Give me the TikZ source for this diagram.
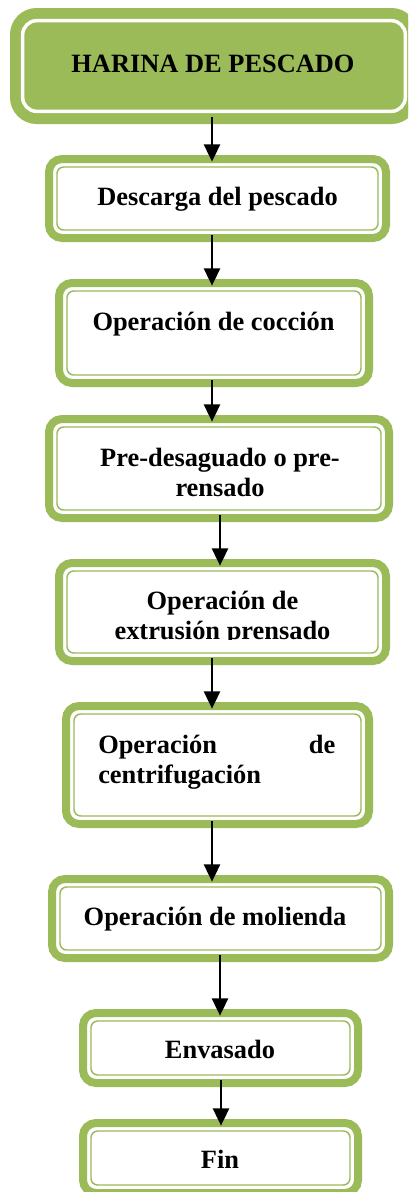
\documentclass[tikz,border=0pt]{standalone}
\usepackage{fontspec}
\setmainfont{Liberation Serif}
\usetikzlibrary{arrows.meta}
\definecolor{grn}{HTML}{9BBB59}
\begin{document}
\begin{tikzpicture}[x=0.75pt,y=-0.75pt,
  stepbox/.style 2 args={draw=grn, line width=6pt, fill=white, rounded corners=9.75pt,
    inner sep=0pt, outer sep=3pt, minimum width=#1, minimum height=#2,
    path picture={\draw[grn, line width=1.1pt, rounded corners=5pt]
      ([shift={(6pt,-6pt)}]path picture bounding box.north west) rectangle
      ([shift={(-6pt,6pt)}]path picture bounding box.south east);}},
  titlebox/.style 2 args={draw=grn, line width=6pt, fill=grn, rounded corners=17pt,
    inner sep=0pt, outer sep=3pt, minimum width=#1, minimum height=#2,
    path picture={\draw[white, line width=2.6pt, rounded corners=10.5pt]
      ([shift={(6.5pt,-6.5pt)}]path picture bounding box.north west) rectangle
      ([shift={(-6.5pt,6.5pt)}]path picture bounding box.south east);}},
  txt/.style={font=\fontsize{19.8pt}{22pt}\selectfont\bfseries, inner sep=0pt,
    anchor=base, align=center},
  arr/.style={line width=2pt, -{Triangle[width=12pt,length=13pt]},
    shorten <=-5pt, shorten >=-5pt}]
\useasboundingbox (0,0) rectangle (408,1192);
\clip (0,0) rectangle (408,1192);

% boxes
\node[titlebox={300pt}{81pt}] (b1) at (214,66) {};
\node[stepbox={252.75pt}{59.25pt}] (b2) at (217.5,198.5) {};
\node[stepbox={232.5pt}{75pt}] (b3) at (214,333) {};
\node[stepbox={255pt}{74.25pt}] (b4) at (219,468.5) {};
\node[stepbox={245.25pt}{73.5pt}] (b5) at (222.5,612) {};
\node[stepbox={227.25pt}{88.5pt}] (b6) at (217.5,765) {};
\node[stepbox={252.75pt}{59.25pt}] (b7) at (220.5,918.5) {};
\node[stepbox={206.25pt}{52.5pt}] (b8) at (220.5,1048) {};
\node[stepbox={206.25pt}{52.5pt}] (b9) at (220.5,1158) {};

% texts (multi-line nodes: base = baseline of the last line)
\node[txt] (t1) at (213,72) {HARINA DE PESCADO};
\node[txt] (t2) at (217.5,205) {Descarga del pescado};
\node[txt] (t3) at (213.5,330.5) {Operación de cocción};
\node[txt] (t4) at (220,496) {Pre-desaguado o pre-\\rensado};
\begin{scope}
  \clip (0,0) rectangle (408,639.5);
  \node[txt] (t5) at (222.5,639) {Operación de\\extrusión prensado};
\end{scope}
\node[txt, anchor=base west, align=left] (t6) at (98,783)
  {\makebox[177.75pt][l]{Operación\hfill de}\\centrifugación};
\node[txt] (t7) at (215,925) {Operación de molienda};
\node[txt] (t8) at (220,1058) {Envasado};
\node[txt] (t9) at (220,1168) {Fin};

% arrows
\coordinate (xa) at (212,0);
\coordinate (xb) at (220,0);
\coordinate (xc) at (221,0);
\draw[arr] (b1.south -| xa) -- (b2.north -| xa);
\draw[arr] (b2.south -| xa) -- (b3.north -| xa);
\draw[arr] (b3.south -| xa) -- (b4.north -| xa);
\draw[arr] (b4.south -| xb) -- (b5.north -| xb);
\draw[arr] (b5.south -| xa) -- (b6.north -| xa);
\draw[arr] (b6.south -| xa) -- (b7.north -| xa);
\draw[arr] (b7.south -| xb) -- (b8.north -| xb);
\draw[arr] (b8.south -| xc) -- (b9.north -| xc);
\end{tikzpicture}
\end{document}
